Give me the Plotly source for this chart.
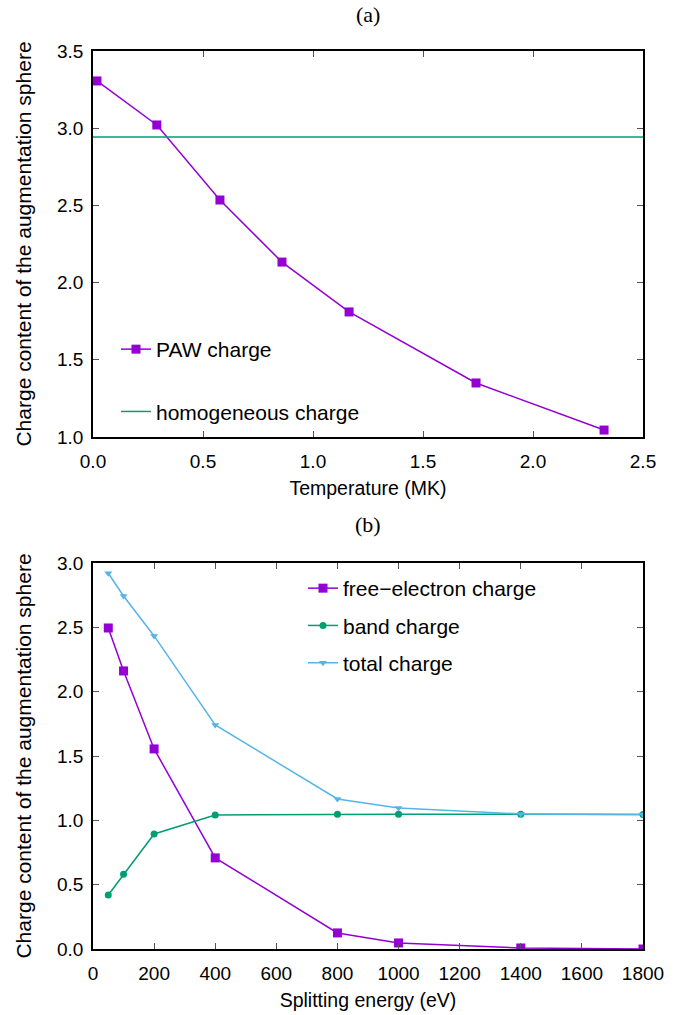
import plotly.graph_objects as go

# (a) PAW charge vs temperature
temp_mk = [0.018, 0.29, 0.577, 0.859, 1.164, 1.741, 2.323]
paw_charge = [3.306, 3.021, 2.535, 2.133, 1.81, 1.35, 1.045]
homogeneous_charge = 2.943
temp_range = [0, 2.5]

# (b) charges vs splitting energy
split_ev = [50, 100, 200, 400, 800, 1000, 1400, 1800]
free_electron = [2.495, 2.161, 1.555, 0.708, 0.125, 0.047, 0.008, 0.0]
band_charge = [0.42, 0.58, 0.894, 1.042, 1.048, 1.048, 1.047, 1.045]
total_charge = [2.92, 2.744, 2.433, 1.741, 1.166, 1.096, 1.05, 1.045]

PURPLE = "#9400D3"
GREEN = "#009E73"
BLUE = "#56B4E9"
W, H = 687, 1015
SANS = "Liberation Sans"
SERIF = "Liberation Serif"
FS = 19
FS_BIG = 21

def px_x(p):
    return p / W

def px_y(p):
    return 1 - p / H

fig = go.Figure()
fig.add_trace(go.Scatter(x=temp_mk, y=paw_charge, mode="lines+markers", name="PAW charge",
                         line=dict(color=PURPLE, width=1.5),
                         marker=dict(symbol="square", size=9, color=PURPLE),
                         xaxis="x", yaxis="y", legend="legend", legendgroup="a1"))
fig.add_trace(go.Scatter(x=temp_range, y=[homogeneous_charge] * 2, mode="lines",
                         name="homogeneous charge", line=dict(color=GREEN, width=1.5),
                         xaxis="x", yaxis="y", legend="legend", legendgroup="a2"))
fig.add_trace(go.Scatter(x=split_ev, y=free_electron, mode="lines+markers", name="free\u2212electron charge",
                         line=dict(color=PURPLE, width=1.5),
                         marker=dict(symbol="square", size=9, color=PURPLE),
                         xaxis="x2", yaxis="y2", legend="legend2", legendgroup="b1"))
fig.add_trace(go.Scatter(x=split_ev, y=band_charge, mode="lines+markers", name="band charge",
                         line=dict(color=GREEN, width=1.5),
                         marker=dict(symbol="circle", size=7, color=GREEN),
                         xaxis="x2", yaxis="y2", legend="legend2", legendgroup="b2"))
fig.add_trace(go.Scatter(x=split_ev, y=total_charge, mode="lines+markers", name="total charge",
                         line=dict(color=BLUE, width=1.5),
                         marker=dict(symbol="triangle-down", size=7, color=BLUE),
                         xaxis="x2", yaxis="y2", legend="legend2", legendgroup="b3"))

axis_common = dict(showline=True, linecolor="black", linewidth=1.5, mirror="ticks",
                   ticks="inside", ticklen=6, tickwidth=1, tickcolor="#555",
                   showgrid=False, zeroline=False, automargin=False,
                   tickfont=dict(family=SANS, size=FS, color="black"))
xaxis_extra = dict(ticklabelstandoff=6)
yaxis_extra = dict(ticklabelstandoff=4)
xtitle_font = dict(family=SANS, size=19.5, color="black")
ytitle_font = dict(family=SANS, size=FS_BIG, color="black")

xdom = [px_x(93), px_x(643)]
fig.update_layout(
    width=W, height=H, margin=dict(l=0, r=0, t=0, b=0, autoexpand=False),
    paper_bgcolor="white", plot_bgcolor="white", showlegend=True,
    xaxis=dict(domain=xdom, range=[0, 2.5], dtick=0.5, tickformat=".1f", anchor="y",
               title=dict(text="Temperature (MK)", standoff=11, font=xtitle_font),
               **axis_common, **xaxis_extra),
    yaxis=dict(domain=[px_y(437), px_y(51)], range=[1.0, 3.5], dtick=0.5, tickformat=".1f", anchor="x",
               title=dict(text="Charge content of the augmentation sphere", standoff=20, font=ytitle_font),
               **axis_common, **yaxis_extra),
    xaxis2=dict(domain=xdom, range=[0, 1800], dtick=200, anchor="y2",
                title=dict(text="Splitting energy (eV)", standoff=11, font=xtitle_font),
                **axis_common, **xaxis_extra),
    yaxis2=dict(domain=[px_y(949), px_y(563)], range=[0, 3.0], dtick=0.5, tickformat=".1f", anchor="x2",
                title=dict(text="Charge content of the augmentation sphere", standoff=20, font=ytitle_font),
                **axis_common, **yaxis_extra),
    legend=dict(x=px_x(116), y=px_y(329), xanchor="left", yanchor="top", bgcolor="rgba(0,0,0,0)",
                font=dict(family=SANS, size=FS_BIG, color="black"), tracegroupgap=32),
    legend2=dict(x=px_x(303), y=px_y(568), xanchor="left", yanchor="top", bgcolor="rgba(0,0,0,0)",
                 font=dict(family=SANS, size=FS_BIG, color="black"), tracegroupgap=7),
    annotations=[
        dict(text="(a)", x=0.5 * (xdom[0] + xdom[1]), y=px_y(15), xref="paper", yref="paper",
             xanchor="center", yanchor="middle",
             showarrow=False, font=dict(family=SERIF, size=22, color="black")),
        dict(text="(b)", x=0.5 * (xdom[0] + xdom[1]), y=px_y(524), xref="paper", yref="paper",
             xanchor="center", yanchor="middle",
             showarrow=False, font=dict(family=SERIF, size=22, color="black")),
    ],
)

fig.write_html("out.html")
